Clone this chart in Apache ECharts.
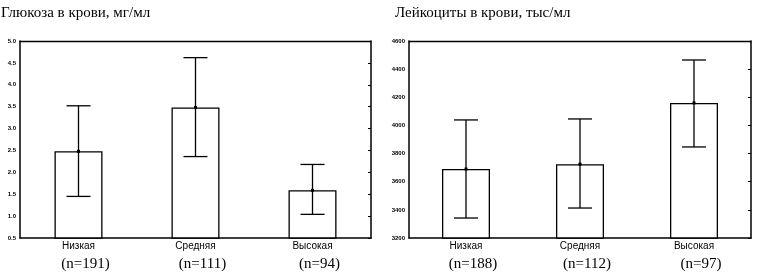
<!DOCTYPE html>
<html>
<head>
<meta charset="utf-8">
<script src="https://cdn.jsdelivr.net/npm/echarts@6/dist/echarts.min.js"></script>
<style>
html, body { margin: 0; padding: 0; background: #fff; }
#chart { width: 760px; height: 273px; }
</style>
</head>
<body>
<div id="chart"></div>
<script>
// groups
var categories = ['Низкая', 'Средняя', 'Высокая'];

// glucose, mg/ml
var glucoseMean = [2.48, 3.48, 1.59];
var glucoseLow = [1.45, 2.36, 1.04];
var glucoseHigh = [3.52, 4.62, 2.18];
var glucoseN = [191, 111, 94];

// leukocytes
var leukMean = [3690, 3725, 4160];
var leukLow = [3342, 3413, 3847];
var leukHigh = [4039, 4046, 4465];
var leukN = [188, 112, 97];

var serif = '"Liberation Serif", "DejaVu Serif", serif';
var sans = '"Liberation Sans", Arial, sans-serif';

function errData(low, high, mean) {
	var out = [];
	for (let i = 0; i < low.length; i++) {
		out.push([i, low[i], high[i], mean[i]]);
	}
	return out;
}

function renderErr(params, api) {
	var x = api.value(0);
	var lo = api.coord([x, api.value(1)]);
	var hi = api.coord([x, api.value(2)]);
	var mid = api.coord([x, api.value(3)]);
	var cap = 12;
	var st = { stroke: '#000', lineWidth: 1.3 };
	return {
		type: 'group',
		children: [
			{ type: 'line', shape: { x1: lo[0], y1: lo[1], x2: hi[0], y2: hi[1] }, style: st },
			{ type: 'line', shape: { x1: hi[0] - cap, y1: hi[1], x2: hi[0] + cap, y2: hi[1] }, style: st },
			{ type: 'line', shape: { x1: lo[0] - cap, y1: lo[1], x2: lo[0] + cap, y2: lo[1] }, style: st },
			{ type: 'rect', shape: { x: mid[0] - 1.5, y: mid[1] - 1.5, width: 3, height: 3 }, style: { fill: '#000' } }
		]
	};
}

function catLabels(nList) {
	return function (value, idx) {
		return '{a|' + value + '}\n{b|(n=' + nList[idx] + ')}';
	};
}

function makeX(gi, nList) {
	return [{
		type: 'category', gridIndex: gi, data: categories, position: 'bottom',
		axisLine: { lineStyle: { color: '#000', width: 1.5 } },
		axisTick: { inside: true, length: 3, alignWithLabel: true, lineStyle: { color: '#000' } },
		axisLabel: {
			formatter: catLabels(nList), margin: 2,
			rich: {
				a: { fontFamily: sans, fontSize: 10, color: '#000', lineHeight: 13 },
				b: { fontFamily: serif, fontSize: 15, color: '#000', lineHeight: 22, padding: [0, 0, 0, 14] }
			}
		}
	}, {
		type: 'category', gridIndex: gi, data: categories, position: 'top',
		axisLine: { lineStyle: { color: '#000', width: 1.3 } },
		axisTick: { inside: true, length: 3, alignWithLabel: true, lineStyle: { color: '#000' } },
		axisLabel: { show: false }
	}];
}

function makeY(gi, min, max, step, digits) {
	return [{
		type: 'value', gridIndex: gi, min: min, max: max, interval: step, position: 'left',
		axisLine: { show: true, lineStyle: { color: '#000', width: 1.5 } },
		axisTick: { show: false },
		splitLine: { show: false },
		axisLabel: {
			fontFamily: sans, fontSize: 6, fontWeight: 'bold', color: '#000', margin: 4,
			formatter: function (v) { return v.toFixed(digits); }
		}
	}, {
		type: 'value', gridIndex: gi, min: min, max: max, interval: step, position: 'right',
		axisLine: { show: true, lineStyle: { color: '#000', width: 1.5 } },
		axisTick: { show: true, inside: true, length: 3, lineStyle: { color: '#000' } },
		splitLine: { show: false },
		axisLabel: { show: false }
	}];
}

var mychart = echarts.init(document.getElementById('chart'));
var option = {
	animation: false,
	backgroundColor: '#fff',
	title: [{
		text: 'Глюкоза в крови, мг/мл', left: -4, top: 1,
		textStyle: { fontFamily: serif, fontSize: 15, fontWeight: 'normal', color: '#000' }
	}, {
		text: 'Лейкоциты в крови, тыс/мл', left: 390, top: 1,
		textStyle: { fontFamily: serif, fontSize: 15, fontWeight: 'normal', color: '#000' }
	}],
	grid: [
		{ left: 20, top: 41, width: 351, height: 197, outerBoundsMode: 'none', containLabel: false },
		{ left: 409, top: 41, width: 342, height: 197, outerBoundsMode: 'none', containLabel: false }
	],
	xAxis: makeX(0, glucoseN).concat(makeX(1, leukN)),
	yAxis: makeY(0, 0.5, 5.0, 0.5, 1).concat(makeY(1, 3200, 4600, 200, 0)),
	series: [{
		type: 'bar', xAxisIndex: 0, yAxisIndex: 0, data: glucoseMean, barWidth: 48,
		itemStyle: { color: '#fff', borderColor: '#000', borderWidth: 1.3 }
	}, {
		type: 'custom', xAxisIndex: 0, yAxisIndex: 0, data: errData(glucoseLow, glucoseHigh, glucoseMean),
		renderItem: renderErr, z: 5
	}, {
		type: 'bar', xAxisIndex: 2, yAxisIndex: 2, data: leukMean, barWidth: 48,
		itemStyle: { color: '#fff', borderColor: '#000', borderWidth: 1.3 }
	}, {
		type: 'custom', xAxisIndex: 2, yAxisIndex: 2, data: errData(leukLow, leukHigh, leukMean),
		renderItem: renderErr, z: 5
	}]
};
mychart.setOption(option);
</script>
</body>
</html>
